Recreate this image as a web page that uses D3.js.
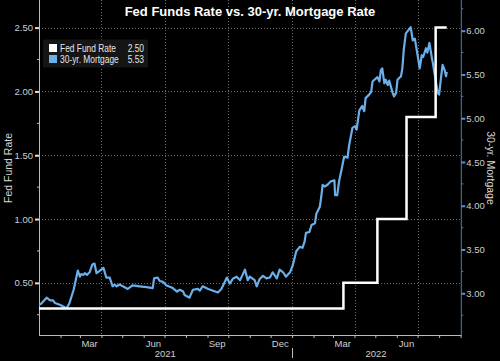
<!DOCTYPE html>
<html><head><meta charset="utf-8">
<script src="https://cdn.jsdelivr.net/npm/d3@7"></script>
<style>body{margin:0;background:#000;}svg{display:block;}</style>
</head><body>
<svg id="c" width="500" height="361"></svg>
<script>
// ---- data ----
const fedDates = ["2021-01-01","2022-03-16","2022-05-04","2022-06-15","2022-07-27","2022-08-12"];
const fedValues = [0.30, 0.50, 1.00, 1.80, 2.50, 2.50];
const mortDates = ["2021-01-01","2021-01-04","2021-01-12","2021-01-17","2021-01-21","2021-01-24","2021-01-31","2021-02-07","2021-02-10","2021-02-14","2021-02-20","2021-02-26","2021-03-01","2021-03-03","2021-03-06","2021-03-08","2021-03-11","2021-03-15","2021-03-19","2021-03-22","2021-03-25","2021-03-30","2021-04-04","2021-04-08","2021-04-13","2021-04-17","2021-04-20","2021-04-23","2021-04-27","2021-05-02","2021-05-09","2021-05-16","2021-05-26","2021-06-05","2021-06-14","2021-06-16","2021-06-21","2021-06-24","2021-06-29","2021-07-04","2021-07-13","2021-07-19","2021-07-23","2021-07-28","2021-07-30","2021-08-06","2021-08-11","2021-08-18","2021-08-21","2021-08-25","2021-09-02","2021-09-09","2021-09-16","2021-09-21","2021-09-29","2021-10-03","2021-10-08","2021-10-13","2021-10-18","2021-10-25","2021-10-29","2021-11-01","2021-11-08","2021-11-11","2021-11-15","2021-11-20","2021-11-25","2021-11-30","2021-12-04","2021-12-10","2021-12-14","2021-12-19","2021-12-23","2021-12-29","2022-01-02","2022-01-07","2022-01-12","2022-01-16","2022-01-19","2022-01-21","2022-01-26","2022-01-29","2022-02-03","2022-02-05","2022-02-10","2022-02-12","2022-02-14","2022-02-17","2022-02-21","2022-02-26","2022-03-03","2022-03-04","2022-03-07","2022-03-10","2022-03-13","2022-03-17","2022-03-22","2022-03-24","2022-03-29","2022-04-02","2022-04-04","2022-04-08","2022-04-12","2022-04-15","2022-04-17","2022-04-22","2022-04-25","2022-04-27","2022-05-04","2022-05-07","2022-05-09","2022-05-11","2022-05-14","2022-05-16","2022-05-19","2022-05-21","2022-05-26","2022-05-28","2022-05-31","2022-06-02","2022-06-07","2022-06-09","2022-06-11","2022-06-14","2022-06-16","2022-06-21","2022-06-24","2022-06-27","2022-07-01","2022-07-04","2022-07-07","2022-07-09","2022-07-13","2022-07-15","2022-07-18","2022-07-22","2022-07-23","2022-07-26","2022-07-30","2022-08-01","2022-08-04","2022-08-06","2022-08-09","2022-08-11","2022-08-12"];
const mortValues = [2.87,2.88,2.95,2.92,2.92,2.89,2.87,2.84,2.83,2.89,3.04,3.26,3.19,3.22,3.21,3.23,3.21,3.24,3.33,3.34,3.23,3.26,3.29,3.18,3.18,3.08,3.10,3.08,3.10,3.08,3.05,3.09,3.08,3.07,3.06,3.17,3.18,3.14,3.13,3.09,3.06,3.02,3.04,3.02,2.98,2.95,3.04,3.05,3.03,3.08,3.05,3.03,3.01,3.05,3.18,3.11,3.17,3.19,3.15,3.27,3.15,3.19,3.15,3.08,3.16,3.20,3.17,3.18,3.24,3.17,3.27,3.24,3.19,3.24,3.32,3.48,3.53,3.52,3.59,3.69,3.70,3.78,3.80,3.91,3.99,4.10,4.24,4.22,4.24,4.28,4.29,4.12,4.12,4.29,4.40,4.56,4.55,4.68,4.89,4.91,4.87,5.09,5.14,5.08,5.23,5.27,5.30,5.42,5.47,5.42,5.55,5.57,5.40,5.44,5.38,5.43,5.29,5.25,5.29,5.44,5.48,5.57,5.78,5.97,5.99,6.04,5.89,5.91,5.72,5.57,5.72,5.70,5.80,5.75,5.86,5.67,5.63,5.48,5.29,5.27,5.48,5.61,5.55,5.48,5.53];
const leftTicks = [0.50, 1.00, 1.50, 2.00, 2.50];
const rightTicks = [3.00, 3.50, 4.00, 4.50, 5.00, 5.50, 6.00];
const monthLabels = [["2021-03-15","Mar"],["2021-06-15","Jun"],["2021-09-15","Sep"],["2021-12-15","Dec"],["2022-03-15","Mar"],["2022-06-15","Jun"]];
const yearLabels = [["2021-07-02","2021"],["2022-05-02","2022"]];
const legendItems = [["Fed Fund Rate","2.50"],["30-yr. Mortgage","5.53"]];
const titleText = "Fed Funds Rate vs. 30-yr. Mortgage Rate";

// ---- layout ----
const parse = d3.timeParse("%Y-%m-%d");
const L = 39, R = 461.3, T = 0, B = 335;
const x = d3.scaleTime().domain([parse("2021-01-01"), parse("2022-09-02")]).range([L, R]);
const yL = d3.scaleLinear().domain([0.5 - (B-282.7)/128, 2.5 + (27.7-T)/128]).range([B, T]);
const yR = d3.scaleLinear().domain([3 - (B-293.3)/87.5, 6 + (30.7-T)/87.5]).range([B, T]);
const FONT = "'Liberation Sans', Arial, sans-serif";
const svg = d3.select("#c");
svg.append("rect").attr("width",500).attr("height",361).attr("fill","#000");

const grid = svg.append("g").attr("stroke","#6a6a6a").attr("stroke-width",1).attr("stroke-dasharray","1,2");
leftTicks.forEach(v=>{
  const yy = Math.round(yL(v))+0.5;
  grid.append("line").attr("x1",L).attr("x2",R).attr("y1",yy).attr("y2",yy);
});
const quarters = d3.timeMonth.every(3).range(parse("2021-04-01"), parse("2022-09-02"));
quarters.forEach(d=>{
  const xx = Math.round(x(d))+0.5;
  grid.append("line").attr("x1",xx).attr("x2",xx).attr("y1",T).attr("y2",B);
});

// left axis
const axL = d3.axisLeft(yL).tickValues(leftTicks).tickFormat(d3.format(".2f")).tickSize(4).tickPadding(2);
const gL = svg.append("g").attr("transform",`translate(${L},0)`).call(axL);
gL.select(".domain").attr("stroke","#bdbdbd").attr("d",`M0.5,${T}V${B}`);
gL.selectAll(".tick line").attr("stroke","#e0e0e0").attr("stroke-width",2);
gL.selectAll(".tick text").attr("fill","#cfcfcf").style("font-family",FONT).style("font-size","9.5px");
const minorL = d3.range(0.25, 2.75, 0.5);
gL.selectAll(".minor").data(minorL).enter().append("line").attr("x1",-2).attr("x2",0)
  .attr("y1",d=>yL(d)).attr("y2",d=>yL(d)).attr("stroke","#bdbdbd");

// right axis
const axR = d3.axisRight(yR).tickValues(rightTicks).tickFormat(d3.format(".2f")).tickSize(4).tickPadding(1);
const gR = svg.append("g").attr("transform",`translate(${R},0)`).call(axR);
gR.select(".domain").attr("stroke","#4d7fb4").attr("d",`M0,${T}V${B}`);
gR.selectAll(".tick line").attr("stroke","#5b90c8").attr("stroke-width",2);
gR.selectAll(".tick text").attr("fill","#cfcfcf").style("font-family",FONT).style("font-size","9.5px");
const minorR = d3.range(2.75, 6.3, 0.5);
gR.selectAll(".minor").data(minorR).enter().append("line").attr("x1",0).attr("x2",2)
  .attr("y1",d=>yR(d)).attr("y2",d=>yR(d)).attr("stroke","#4d7fb4");

// bottom axis
const months = d3.timeMonth.range(parse("2021-02-01"), parse("2022-09-03"));
const axB = d3.axisBottom(x).tickValues(months).tickFormat("").tickSize(3);
const gB = svg.append("g").attr("transform",`translate(0,${B})`).call(axB);
gB.select(".domain").attr("stroke","#bdbdbd").attr("d",`M${L},0.5H${R}`);
gB.selectAll(".tick line").attr("stroke","#bdbdbd");
svg.append("line").attr("x1",Math.round(x(parse("2022-01-01")))+0.5).attr("x2",Math.round(x(parse("2022-01-01")))+0.5)
  .attr("y1",348).attr("y2",358).attr("stroke","#bdbdbd");
svg.append("g").selectAll("text").data(monthLabels).enter().append("text")
  .attr("x",d=>x(parse(d[0]))).attr("y",347).attr("text-anchor","middle")
  .attr("fill","#cfcfcf").style("font-family",FONT).style("font-size","9.5px").text(d=>d[1]);
svg.append("g").selectAll("text").data(yearLabels).enter().append("text")
  .attr("x",d=>x(parse(d[0]))).attr("y",357).attr("text-anchor","middle")
  .attr("fill","#cfcfcf").style("font-family",FONT).style("font-size","9.5px").text(d=>d[1]);

// axis titles
svg.append("text").attr("transform",`translate(12,168) rotate(-90)`).attr("text-anchor","middle")
  .attr("fill","#d8d8d8").style("font-family",FONT).style("font-size","10.5px").text("Fed Fund Rate");
svg.append("text").attr("transform",`translate(487,168) rotate(90)`).attr("text-anchor","middle")
  .attr("fill","#d8d8d8").style("font-family",FONT).style("font-size","10.5px").text("30-yr. Mortgage");

// lines
const fed = fedDates.map((d,i)=>({d:parse(d),v:fedValues[i]}));
const mort = mortDates.map((d,i)=>({d:parse(d),v:mortValues[i]}));
svg.append("path").datum(mort).attr("fill","none").attr("stroke","#6aaeea").attr("stroke-width",2.2)
  .attr("stroke-linejoin","round").attr("d",d3.line().x(p=>x(p.d)).y(p=>yR(p.v)));
svg.append("path").datum(fed).attr("fill","none").attr("stroke","#ffffff").attr("stroke-width",2.5)
  .attr("d",d3.line().curve(d3.curveStepAfter).x(p=>x(p.d)).y(p=>yL(p.v)));

// title
svg.append("text").attr("x",250).attr("y",16).attr("text-anchor","middle").attr("fill","#ffffff")
  .style("font-family",FONT).style("font-size","13px").style("font-weight","bold").text(titleText);

// legend
const lg = svg.append("g");
lg.append("rect").attr("x",43).attr("y",39.5).attr("width",105).attr("height",28).attr("rx",1.5).attr("fill","#151515");
const colors = ["#ffffff","#6aaeea"];
legendItems.forEach((it,i)=>{
  const yy = 44 + i*11;
  lg.append("rect").attr("x",49).attr("y",yy).attr("width",8).attr("height",8).attr("fill",colors[i]);
  lg.append("text").attr("transform",`translate(60,${yy+7.8}) scale(0.8,1)`).attr("fill","#e6e6e6")
    .style("font-family",FONT).style("font-size","10.5px").text(it[0]);
  lg.append("text").attr("transform",`translate(144,${yy+7.8}) scale(0.8,1)`).attr("text-anchor","end").attr("fill","#e6e6e6")
    .style("font-family",FONT).style("font-size","10.5px").text(it[1]);
});
</script>
</body></html>
